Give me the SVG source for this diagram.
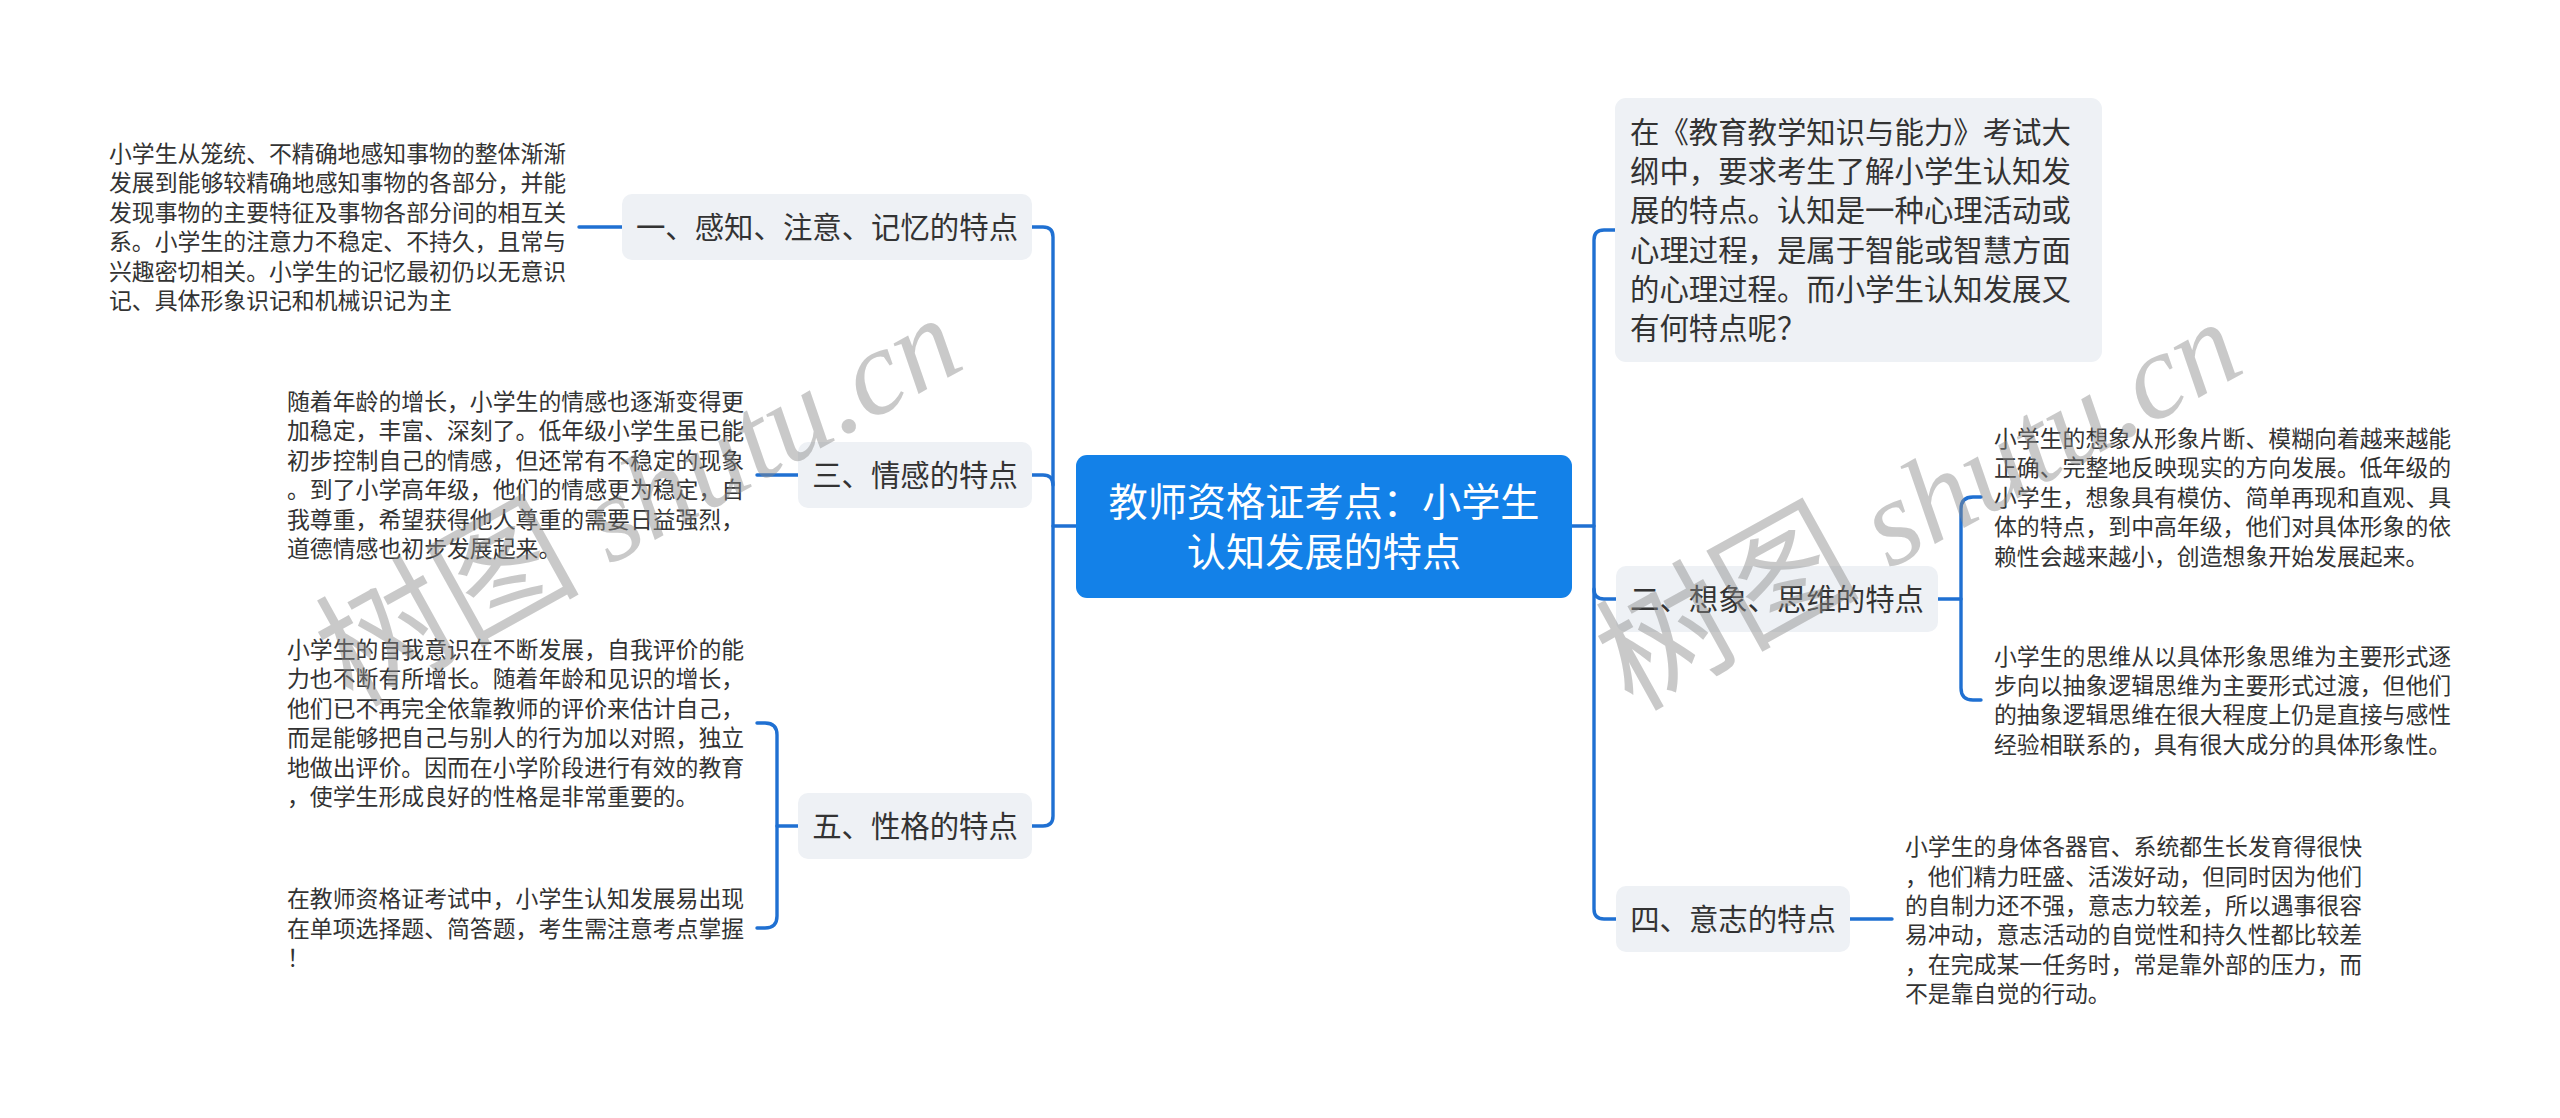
<svg xmlns="http://www.w3.org/2000/svg" width="2560" height="1118" viewBox="0 0 2560 1118">
<style>
.bg{fill:#ffffff}
.node{fill:#eef1f5}
.root{fill:#1381e8}
.conn{fill:none;stroke:#1f70d2;stroke-width:3.4;stroke-linecap:round}
.t{font-family:"Noto Sans CJK SC","Noto Sans",sans-serif;fill:#333333}
.nt{font-size:29.4px;text-anchor:middle}
.st{font-size:22.86px}
.it{font-size:29.4px}
.rt{font-family:"Noto Sans CJK SC","Noto Sans",sans-serif;font-size:39.2px;fill:#ffffff;text-anchor:middle}
.wm{font-family:"Liberation Serif","Noto Sans CJK SC",serif;fill:#8a8a8a;opacity:0.45}
.wmc{font-family:"Noto Sans CJK SC",sans-serif;font-size:132px;font-weight:400}
.wml{font-style:italic;font-size:122px}
</style>
<rect class="bg" x="0" y="0" width="2560" height="1118"/>
<g id="connectors">
<path class="conn" d="M1076 526 H1053"/>
<path class="conn" d="M1032 227 H1043 Q1053 227 1053 237 V816 Q1053 826 1043 826 H1032"/>
<path class="conn" d="M1032 475 H1043 Q1053 475 1053 485"/>
<path class="conn" d="M1572 526 H1594"/>
<path class="conn" d="M1615 230 H1604 Q1594 230 1594 240 V909 Q1594 919 1604 919 H1616"/>
<path class="conn" d="M1594 589 Q1594 599 1604 599 H1616"/>
<path class="conn" d="M579 227 H622"/>
<path class="conn" d="M757 475 H798"/>
<path class="conn" d="M757 723 H765 Q777 723 777 735 V916 Q777 928 765 928 H757"/>
<path class="conn" d="M777 826 H798"/>
<path class="conn" d="M1981 497 H1973 Q1961 497 1961 509 V688 Q1961 700 1973 700 H1981"/>
<path class="conn" d="M1938 599 H1961"/>
<path class="conn" d="M1850 919 H1892"/>
</g>
<g id="root">
<rect class="root" x="1076" y="455" width="496" height="143" rx="11"/>
<text class="rt" x="1324" y="516">教师资格证考点：小学生</text>
<text class="rt" x="1324" y="566">认知发展的特点</text>
</g>
<g id="n1">
<rect class="node" x="622" y="194" width="410" height="66" rx="10"/>
<text class="t nt" x="827" y="238">一、感知、注意、记忆的特点</text>
</g>
<g id="n1-text">
<text class="t st" x="109" y="162">小学生从笼统、不精确地感知事物的整体渐渐</text>
<text class="t st" x="109" y="191.4">发展到能够较精确地感知事物的各部分，并能</text>
<text class="t st" x="109" y="220.8">发现事物的主要特征及事物各部分间的相互关</text>
<text class="t st" x="109" y="250.2">系。小学生的注意力不稳定、不持久，且常与</text>
<text class="t st" x="109" y="279.6">兴趣密切相关。小学生的记忆最初仍以无意识</text>
<text class="t st" x="109" y="309">记、具体形象识记和机械识记为主</text>
</g>
<g id="n3">
<rect class="node" x="798" y="442" width="234" height="66" rx="10"/>
<text class="t nt" x="915" y="486">三、情感的特点</text>
</g>
<g id="n3-text">
<text class="t st" x="287" y="410">随着年龄的增长，小学生的情感也逐渐变得更</text>
<text class="t st" x="287" y="439.4">加稳定，丰富、深刻了。低年级小学生虽已能</text>
<text class="t st" x="287" y="468.8">初步控制自己的情感，但还常有不稳定的现象</text>
<text class="t st" x="287" y="498.2">。到了小学高年级，他们的情感更为稳定，自</text>
<text class="t st" x="287" y="527.6">我尊重，希望获得他人尊重的需要日益强烈，</text>
<text class="t st" x="287" y="557">道德情感也初步发展起来。</text>
</g>
<g id="n5">
<rect class="node" x="798" y="793" width="234" height="66" rx="10"/>
<text class="t nt" x="915" y="837">五、性格的特点</text>
</g>
<g id="n5-text1">
<text class="t st" x="287" y="658">小学生的自我意识在不断发展，自我评价的能</text>
<text class="t st" x="287" y="687.4">力也不断有所增长。随着年龄和见识的增长，</text>
<text class="t st" x="287" y="716.8">他们已不再完全依靠教师的评价来估计自己，</text>
<text class="t st" x="287" y="746.2">而是能够把自己与别人的行为加以对照，独立</text>
<text class="t st" x="287" y="775.6">地做出评价。因而在小学阶段进行有效的教育</text>
<text class="t st" x="287" y="805">，使学生形成良好的性格是非常重要的。</text>
</g>
<g id="n5-text2">
<text class="t st" x="287" y="907.3">在教师资格证考试中，小学生认知发展易出现</text>
<text class="t st" x="287" y="936.7">在单项选择题、简答题，考生需注意考点掌握</text>
<text class="t st" x="287" y="966.1">！</text>
</g>
<g id="intro">
<rect class="node" x="1615" y="98" width="487" height="264" rx="11"/>
<text class="t it" x="1630" y="143">在《教育教学知识与能力》考试大</text>
<text class="t it" x="1630" y="182.2">纲中，要求考生了解小学生认知发</text>
<text class="t it" x="1630" y="221.4">展的特点。认知是一种心理活动或</text>
<text class="t it" x="1630" y="260.6">心理过程，是属于智能或智慧方面</text>
<text class="t it" x="1630" y="299.8">的心理过程。而小学生认知发展又</text>
<text class="t it" x="1630" y="339">有何特点呢？</text>
</g>
<g id="n2">
<rect class="node" x="1616" y="566" width="322" height="66" rx="10"/>
<text class="t nt" x="1777" y="610">二、想象、思维的特点</text>
</g>
<g id="n2-text1">
<text class="t st" x="1994" y="446.9">小学生的想象从形象片断、模糊向着越来越能</text>
<text class="t st" x="1994" y="476.3">正确、完整地反映现实的方向发展。低年级的</text>
<text class="t st" x="1994" y="505.7">小学生，想象具有模仿、简单再现和直观、具</text>
<text class="t st" x="1994" y="535.1">体的特点，到中高年级，他们对具体形象的依</text>
<text class="t st" x="1994" y="564.5">赖性会越来越小，创造想象开始发展起来。</text>
</g>
<g id="n2-text2">
<text class="t st" x="1994" y="664.6">小学生的思维从以具体形象思维为主要形式逐</text>
<text class="t st" x="1994" y="694">步向以抽象逻辑思维为主要形式过渡，但他们</text>
<text class="t st" x="1994" y="723.4">的抽象逻辑思维在很大程度上仍是直接与感性</text>
<text class="t st" x="1994" y="752.8">经验相联系的，具有很大成分的具体形象性。</text>
</g>
<g id="n4">
<rect class="node" x="1616" y="886" width="234" height="66" rx="10"/>
<text class="t nt" x="1733" y="930">四、意志的特点</text>
</g>
<g id="n4-text">
<text class="t st" x="1905" y="855.2">小学生的身体各器官、系统都生长发育得很快</text>
<text class="t st" x="1905" y="884.6">，他们精力旺盛、活泼好动，但同时因为他们</text>
<text class="t st" x="1905" y="914">的自制力还不强，意志力较差，所以遇事很容</text>
<text class="t st" x="1905" y="943.4">易冲动，意志活动的自觉性和持久性都比较差</text>
<text class="t st" x="1905" y="972.8">，在完成某一任务时，常是靠外部的压力，而</text>
<text class="t st" x="1905" y="1002.2">不是靠自觉的行动。</text>
</g>
<g id="watermarks">
<text class="wm" transform="translate(352,708) rotate(-29)"><tspan class="wmc">树图</tspan><tspan class="wml"> shutu.cn</tspan></text>
<text class="wm" transform="translate(1632,712) rotate(-29)"><tspan class="wmc">树图</tspan><tspan class="wml"> shutu.cn</tspan></text>
</g>
</svg>
